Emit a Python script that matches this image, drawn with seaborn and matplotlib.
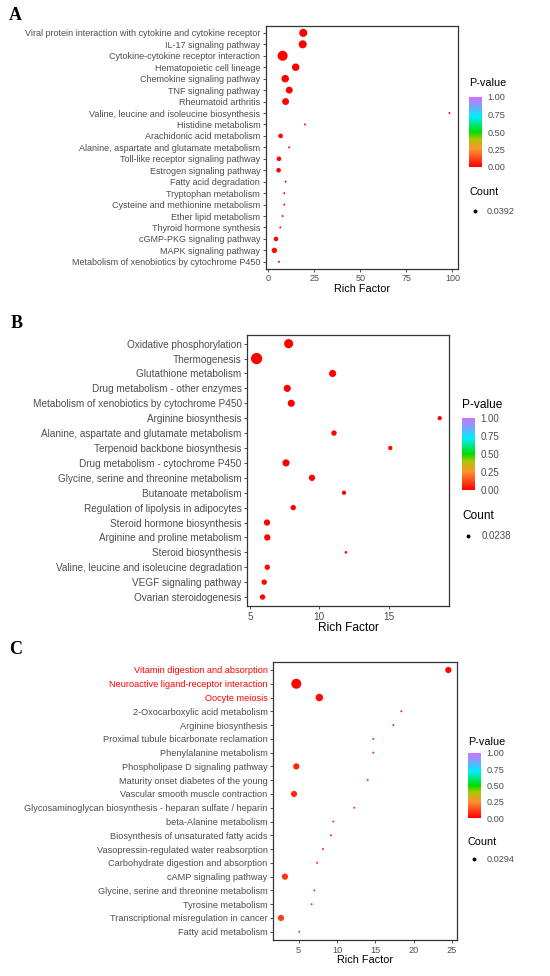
import numpy as np
import pandas as pd
import matplotlib
matplotlib.use("Agg")
import matplotlib.pyplot as plt
import seaborn as sns
from matplotlib.colors import LinearSegmentedColormap, Normalize
from matplotlib.cm import ScalarMappable
from matplotlib.lines import Line2D

# ---------------- data ----------------
terms_a = ["Viral protein interaction with cytokine and cytokine receptor",
           "IL-17 signaling pathway", "Cytokine-cytokine receptor interaction",
           "Hematopoietic cell lineage", "Chemokine signaling pathway",
           "TNF signaling pathway", "Rheumatoid arthritis",
           "Valine, leucine and isoleucine biosynthesis", "Histidine metabolism",
           "Arachidonic acid metabolism", "Alanine, aspartate and glutamate metabolism",
           "Toll-like receptor signaling pathway", "Estrogen signaling pathway",
           "Fatty acid degradation", "Tryptophan metabolism",
           "Cysteine and methionine metabolism", "Ether lipid metabolism",
           "Thyroid hormone synthesis", "cGMP-PKG signaling pathway",
           "MAPK signaling pathway", "Metabolism of xenobiotics by cytochrome P450"]
rich_a = [19.0, 18.7, 7.8, 14.9, 9.2, 11.4, 9.4, 98.4, 19.9, 6.7, 11.3,
          5.8, 5.6, 9.4, 8.7, 8.7, 7.8, 6.5, 4.2, 3.3, 5.8]
count_a = [8, 8, 12, 7, 7, 6, 6, 1, 1, 3, 1, 3, 3, 1, 1, 1, 1, 1, 3, 4, 1]
pval_a = [0.001, 0.001, 0.001, 0.002, 0.003, 0.003, 0.004, 0.005, 0.006, 0.008, 0.008,
          0.01, 0.01, 0.01, 0.012, 0.012, 0.013, 0.014, 0.015, 0.015, 0.016]

terms_b = ["Oxidative phosphorylation", "Thermogenesis", "Glutathione metabolism",
           "Drug metabolism - other enzymes", "Metabolism of xenobiotics by cytochrome P450",
           "Arginine biosynthesis", "Alanine, aspartate and glutamate metabolism",
           "Terpenoid backbone biosynthesis", "Drug metabolism - cytochrome P450",
           "Glycine, serine and threonine metabolism", "Butanoate metabolism",
           "Regulation of lipolysis in adipocytes", "Steroid hormone biosynthesis",
           "Arginine and proline metabolism", "Steroid biosynthesis",
           "Valine, leucine and isoleucine degradation", "VEGF signaling pathway",
           "Ovarian steroidogenesis"]
rich_b = [7.79, 5.48, 10.96, 7.69, 7.98, 18.68, 11.06, 15.12, 7.60, 9.47, 11.78,
          8.12, 6.23, 6.25, 11.92, 6.25, 6.03, 5.91]
count_b = [8, 12, 5, 5, 5, 2, 3, 2, 5, 4, 2, 3, 4, 4, 1, 3, 3, 3]
pval_b = [0.001, 0.001, 0.001, 0.002, 0.002, 0.003, 0.003, 0.004, 0.004, 0.005, 0.006,
          0.006, 0.007, 0.008, 0.009, 0.01, 0.01, 0.011]

terms_c = ["Vitamin digestion and absorption", "Neuroactive ligand-receptor interaction",
           "Oocyte meiosis", "2-Oxocarboxylic acid metabolism", "Arginine biosynthesis",
           "Proximal tubule bicarbonate reclamation", "Phenylalanine metabolism",
           "Phospholipase D signaling pathway", "Maturity onset diabetes of the young",
           "Vascular smooth muscle contraction",
           "Glycosaminoglycan biosynthesis - heparan sulfate / heparin",
           "beta-Alanine metabolism", "Biosynthesis of unsaturated fatty acids",
           "Vasopressin-regulated water reabsorption", "Carbohydrate digestion and absorption",
           "cAMP signaling pathway", "Glycine, serine and threonine metabolism",
           "Tyrosine metabolism", "Transcriptional misregulation in cancer",
           "Fatty acid metabolism"]
rich_c = [24.51, 4.69, 7.69, 18.38, 17.34, 14.73, 14.73, 4.69, 14.0, 4.39, 12.25,
          9.51, 9.21, 8.17, 7.39, 3.21, 7.04, 6.69, 2.69, 5.08]
count_c = [5, 12, 7, 1, 1, 1, 1, 5, 1, 5, 1, 1, 1, 1, 1, 5, 1, 1, 5, 1]
pval_c = [0.01, 0.01, 0.02, 0.06, 0.06, 0.07, 0.07, 0.07, 0.07, 0.08, 0.08, 0.08,
          0.08, 0.08, 0.08, 0.09, 0.09, 0.09, 0.11, 0.09]
highlight_c = ["Vitamin digestion and absorption", "Neuroactive ligand-receptor interaction",
               "Oocyte meiosis"]

legend_counts = ["0.0392", "0.0238", "0.0294"]
cbar_ticks = [0.0, 0.25, 0.5, 0.75, 1.0]

# ---------------- styling ----------------
sns.set_theme(style="white")
plt.rcParams['font.family'] = ['Liberation Sans', 'DejaVu Sans']

cmap = LinearSegmentedColormap.from_list(
    "pv", [(0.0, "#FF0000"), (0.25, "#FF9030"), (0.4, "#A8C800"), (0.5, "#00DD00"),
           (0.72, "#00EEFF"), (0.86, "#70A8FF"), (1.0, "#D070FF")])
norm = Normalize(0, 1)

W, H = 550, 976
fig = plt.figure(figsize=(5.5, 9.76), dpi=100)

def fx(px):
    return px / W

def fy(py):
    return 1 - py / H

GRAY = "#4D4D4D"

def panel(letter, letter_xy, box, terms, rich, count, pval, xlim, xticks,
          sizes, lab_fs, title_fs, cbar_box, pv_title_xy, count_title_xy,
          dot_xy, lab_x, count_lbl, red_terms=(), leg_fs=6.6):
    l, r, t, b = box
    ax = fig.add_axes([fx(l), fy(b), fx(r - l), (b - t) / H])
    df = pd.DataFrame({"term": terms, "rich": rich, "count": count, "p": pval})
    sns.scatterplot(data=df, x="rich", y="term", hue="p", size="count",
                    palette=cmap, hue_norm=norm, sizes=sizes, size_norm=(1, 12),
                    legend=False, linewidth=0, ax=ax, zorder=3)
    n = len(terms)
    ax.set_ylim(n - 0.4, -0.6)
    ax.set_xlim(*xlim)
    ax.set_xticks(xticks)
    ax.set_xticklabels([str(v) for v in xticks])
    ax.set_yticks(range(n))
    ax.set_yticklabels(terms)
    ax.set_ylabel("")
    ax.set_xlabel("Rich Factor", fontsize=title_fs, color="black", labelpad=0.5)
    ax.tick_params(axis="both", length=2.5, width=0.6, color="#333333",
                   labelsize=lab_fs, labelcolor=GRAY, pad=1.5, direction="out",
                   left=True, bottom=True)
    for lbl in ax.get_yticklabels():
        if lbl.get_text() in red_terms:
            lbl.set_color("#FF0000")
    for s in ax.spines.values():
        s.set_visible(True)
        s.set_color("#333333")
        s.set_linewidth(0.9)
    ax.grid(False)

    # panel letter
    fig.text(fx(letter_xy[0]), fy(letter_xy[1]), letter, family="Liberation Serif",
             fontweight="bold", fontsize=13, ha="left", va="center", color="black")

    # colorbar
    cl, cr, ct, cb = cbar_box
    cax = fig.add_axes([fx(cl), fy(cb), fx(cr - cl), (cb - ct) / H])
    cbar = fig.colorbar(ScalarMappable(norm=norm, cmap=cmap), cax=cax)
    cbar.outline.set_visible(False)
    cbar.set_ticks(cbar_ticks)
    cbar.set_ticklabels([f"{v:.2f}" for v in cbar_ticks])
    cax.tick_params(length=2, width=0.6, color="white", direction="in",
                    labelsize=leg_fs, labelcolor=GRAY, pad=4)
    fig.text(fx(pv_title_xy[0]), fy(pv_title_xy[1]), "P-value", fontsize=title_fs,
             ha="left", va="center", color="black")
    fig.text(fx(count_title_xy[0]), fy(count_title_xy[1]), "Count", fontsize=title_fs,
             ha="left", va="center", color="black")
    fig.add_artist(Line2D([fx(dot_xy[0])], [fy(dot_xy[1])], marker="o", markersize=1.8,
                          color="black", linestyle="none", transform=fig.transFigure))
    fig.text(fx(lab_x), fy(dot_xy[1]), count_lbl, fontsize=leg_fs,
             ha="left", va="center", color=GRAY)
    return ax


panel("A", (9, 15), (265.7, 457.7, 26, 268.7), terms_a, rich_a, count_a, pval_a,
      (-1.4, 102.9), [0, 25, 50, 75, 100], (2, 52), 6.45, 7.8,
      (469, 482, 97, 167), (469, 83), (469, 192), (475, 211), 487, legend_counts[0])

panel("B", (11, 323), (247.3, 448.7, 334.7, 606), terms_b, rich_b, count_b, pval_b,
      (4.81, 19.33), [5, 10, 15], (3.8, 66), 7.2, 8.6,
      (462, 475, 418, 490), (462, 405), (462, 515.7), (468.3, 535.7), 481.7,
      legend_counts[1], leg_fs=7.0)

panel("C", (9, 650), (273.3, 456.7, 661.7, 940), terms_c, rich_c, count_c, pval_c,
      (1.69, 25.6), [5, 10, 15, 20, 25], (2, 52), 6.55, 7.8,
      (468, 481, 753, 818), (468, 741.7), (468, 841.7), (474, 859), 486.7,
      legend_counts[2], red_terms=highlight_c)

fig.savefig("out.png", dpi=100, facecolor="white")
